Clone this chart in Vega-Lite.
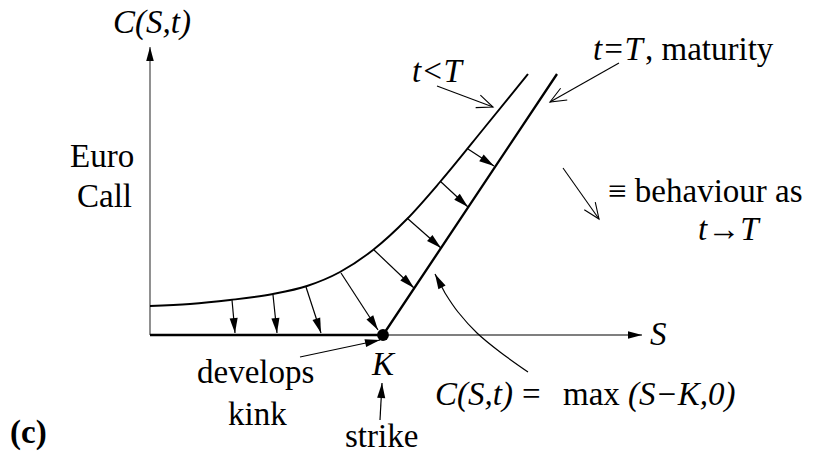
{
  "$schema": "https://vega.github.io/schema/vega-lite/v6.json",
  "width": 822,
  "height": 458,
  "autosize": {"type": "fit", "contains": "padding"},
  "padding": 0,
  "background": "white",
  "config": {"view": {"stroke": null}, "text": {"font": "Tinos, 'Noto Serif', 'DejaVu Serif', 'Liberation Serif', FreeSerif, Times, serif"}},
  "datasets": {
    "axes": [
      {"S": 0, "C": 0, "S2": 0, "C2": 288},
      {"S": 0, "C": 0, "S2": 492, "C2": 0}
    ],
    "payoff": [
      {"S": 0, "C": 0},
      {"S": 233, "C": 0},
      {"S": 407, "C": 261}
    ],
    "before_expiry": [
      {"S": 0, "C": 29},
      {"S": 40, "C": 31},
      {"S": 80, "C": 35},
      {"S": 123, "C": 41},
      {"S": 157, "C": 49},
      {"S": 190, "C": 63},
      {"S": 223, "C": 85},
      {"S": 257, "C": 116},
      {"S": 290, "C": 153},
      {"S": 335, "C": 208},
      {"S": 378, "C": 261}
    ],
    "pointers": [
      {"S": 82, "C": 35, "S2": 85, "C2": 2},
      {"S": 123, "C": 40, "S2": 127, "C2": 2},
      {"S": 156, "C": 48, "S2": 171, "C2": 2},
      {"S": 191, "C": 62, "S2": 228, "C2": 5},
      {"S": 224, "C": 85, "S2": 264, "C2": 47},
      {"S": 257, "C": 117, "S2": 291, "C2": 87},
      {"S": 290, "C": 154, "S2": 318, "C2": 128},
      {"S": 318, "C": 186, "S2": 344, "C2": 169},
      {"S": 150, "C": -22, "S2": 230, "C2": -5},
      {"S": 230, "C": -85, "S2": 232, "C2": -48},
      {"S": 295, "C": 42, "S2": 285, "C2": 61}
    ],
    "sweep": [
      {"step": 1, "S": 378, "C": -37},
      {"step": 2, "S": 350, "C": -17},
      {"step": 3, "S": 327, "C": 2},
      {"step": 4, "S": 308, "C": 23},
      {"step": 5, "S": 295, "C": 42}
    ],
    "callouts": [
      {"S": 287, "C": 249, "S2": 343, "C2": 228},
      {"S": 469, "C": 272, "S2": 400, "C2": 233},
      {"S": 413, "C": 167, "S2": 449, "C2": 116}
    ],
    "strike": [
      {"S": 233, "C": 0}
    ],
    "symbols": [
      {"label": "C(S,t)", "S": -37, "C": 302},
      {"label": "t<T", "S": 262, "C": 253},
      {"label": "t=T", "S": 443, "C": 275},
      {"label": "t→T", "S": 548, "C": 95},
      {"label": "S", "S": 500, "C": -10},
      {"label": "K", "S": 222, "C": -40},
      {"label": "C(S,t)", "S": 285, "C": -70},
      {"label": "(S−K,0)", "S": 478, "C": -70}
    ],
    "words": [
      {"label": "Euro", "S": -80, "C": 168},
      {"label": "Call", "S": -73, "C": 128},
      {"label": ", maturity", "S": 495, "C": 275},
      {"label": "≡ behaviour as", "S": 458, "C": 133},
      {"label": "develops", "S": 47, "C": -48},
      {"label": "kink", "S": 78, "C": -90},
      {"label": "strike", "S": 195, "C": -112},
      {"label": "=", "S": 372, "C": -70},
      {"label": "max", "S": 413, "C": -70}
    ],
    "panel": [
      {"label": "(c)", "S": -140, "C": -108}
    ]
  },
  "encoding": {
    "x": {"field": "S", "type": "quantitative", "scale": {"domain": [-150, 672], "nice": false, "zero": false}, "axis": null},
    "y": {"field": "C", "type": "quantitative", "scale": {"domain": [-123, 335], "nice": false, "zero": false}, "axis": null}
  },
  "layer": [
    {
      "data": {"name": "axes"},
      "mark": {"type": "rule", "color": "#555555", "strokeWidth": 1.3},
      "encoding": {"x2": {"field": "S2"}, "y2": {"field": "C2"}}
    },
    {
      "data": {"name": "axes"},
      "transform": [{"calculate": "atan2(datum.S2 - datum.S, datum.C2 - datum.C) * 180 / PI", "as": "heading"}],
      "mark": {"type": "point", "shape": "M0,0L0.27,1L-0.27,1Z", "filled": true, "size": 784, "opacity": 1, "color": "#000000"},
      "encoding": {
        "x": {"field": "S2", "type": "quantitative"},
        "y": {"field": "C2", "type": "quantitative"},
        "angle": {"field": "heading", "type": "quantitative", "scale": null}
      }
    },
    {
      "data": {"name": "payoff"},
      "mark": {"type": "line", "color": "#000000", "strokeWidth": 2.3},
      "encoding": {}
    },
    {
      "data": {"name": "before_expiry"},
      "mark": {"type": "line", "color": "#000000", "strokeWidth": 1.9, "interpolate": "monotone"},
      "encoding": {}
    },
    {
      "data": {"name": "pointers"},
      "mark": {"type": "rule", "color": "#000000", "strokeWidth": 1.2},
      "encoding": {"x2": {"field": "S2"}, "y2": {"field": "C2"}}
    },
    {
      "data": {"name": "pointers"},
      "transform": [{"calculate": "atan2(datum.S2 - datum.S, datum.C2 - datum.C) * 180 / PI", "as": "heading"}],
      "mark": {"type": "point", "shape": "M0,0L0.27,1L-0.27,1Z", "filled": true, "size": 900, "opacity": 1, "color": "#000000"},
      "encoding": {
        "x": {"field": "S2", "type": "quantitative"},
        "y": {"field": "C2", "type": "quantitative"},
        "angle": {"field": "heading", "type": "quantitative", "scale": null}
      }
    },
    {
      "data": {"name": "sweep"},
      "mark": {"type": "line", "color": "#000000", "strokeWidth": 1.2, "interpolate": "cardinal"},
      "encoding": {"order": {"field": "step", "type": "quantitative"}}
    },
    {
      "data": {"name": "callouts"},
      "mark": {"type": "rule", "color": "#000000", "strokeWidth": 1.1},
      "encoding": {"x2": {"field": "S2"}, "y2": {"field": "C2"}}
    },
    {
      "data": {"name": "callouts"},
      "transform": [{"calculate": "atan2(datum.S2 - datum.S, datum.C2 - datum.C) * 180 / PI", "as": "heading"}],
      "mark": {"type": "point", "shape": "M-0.42,1L0,0L0.42,1", "filled": false, "size": 1024, "opacity": 1, "color": "#000000", "strokeWidth": 1.1},
      "encoding": {
        "x": {"field": "S2", "type": "quantitative"},
        "y": {"field": "C2", "type": "quantitative"},
        "angle": {"field": "heading", "type": "quantitative", "scale": null}
      }
    },
    {
      "data": {"name": "strike"},
      "mark": {"type": "point", "shape": "circle", "filled": true, "size": 140, "opacity": 1, "color": "#000000"},
      "encoding": {}
    },
    {
      "data": {"name": "symbols"},
      "mark": {"type": "text", "fontStyle": "italic", "fontSize": 33, "align": "left", "baseline": "alphabetic", "color": "#000000"},
      "encoding": {"text": {"field": "label"}}
    },
    {
      "data": {"name": "words"},
      "mark": {"type": "text", "fontSize": 33, "align": "left", "baseline": "alphabetic", "color": "#000000"},
      "encoding": {"text": {"field": "label"}}
    },
    {
      "data": {"name": "panel"},
      "mark": {"type": "text", "fontWeight": "bold", "fontSize": 33, "align": "left", "baseline": "alphabetic", "color": "#000000"},
      "encoding": {"text": {"field": "label"}}
    }
  ]
}
